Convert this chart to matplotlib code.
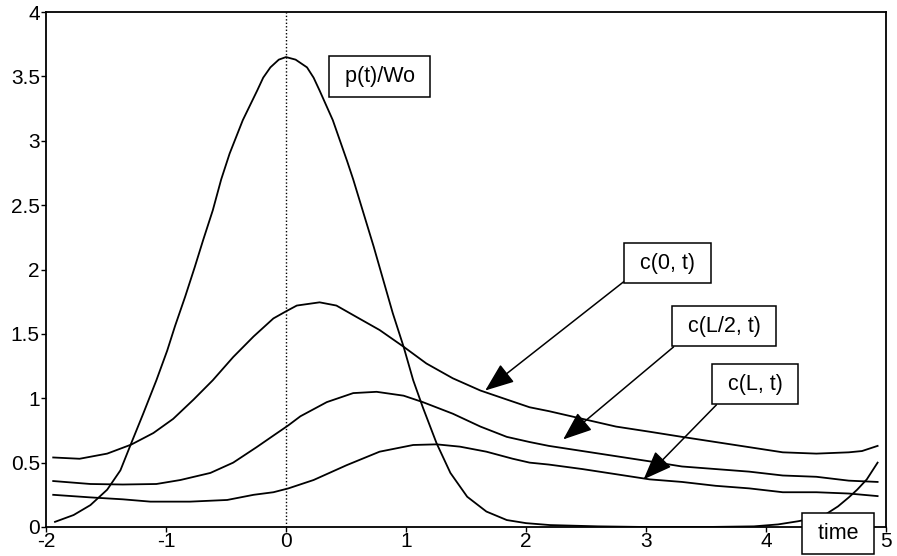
import numpy as np
import matplotlib
matplotlib.use("Agg")
import matplotlib.pyplot as plt

plt.rcParams['font.family'] = ['Liberation Sans', 'DejaVu Sans']

# p(t)/Wo
t_p = [-1.925, -1.77, -1.63, -1.49, -1.38, -1.29, -1.19, -1.08, -0.99, -0.925,
       -0.84, -0.76, -0.69, -0.61, -0.54, -0.47, -0.36, -0.24, -0.19, -0.13, -0.06,
       0.0, 0.08, 0.175, 0.23, 0.28, 0.39, 0.51, 0.56, 0.645, 0.73, 0.81, 0.89, 0.98,
       1.06, 1.14, 1.255, 1.37, 1.51, 1.67, 1.84, 2.0, 2.2, 2.6, 3.0, 3.5, 3.9,
       4.1, 4.27, 4.4, 4.5, 4.6, 4.69, 4.76, 4.84, 4.93]
v_p = [0.04, 0.093, 0.17, 0.29, 0.44, 0.65, 0.88, 1.14, 1.37, 1.56,
       1.79, 2.02, 2.23, 2.46, 2.70, 2.90, 3.16, 3.39, 3.49, 3.57, 3.63,
       3.65, 3.63, 3.57, 3.49, 3.39, 3.16, 2.84, 2.70, 2.44, 2.18, 1.92, 1.66, 1.40,
       1.14, 0.93, 0.65, 0.42, 0.235, 0.12, 0.054, 0.03, 0.015, 0.005, 0.0, 0.0, 0.005,
       0.02, 0.045, 0.07, 0.10, 0.16, 0.23, 0.29, 0.37, 0.50]

# c(0, t)
t_c0 = [-1.94, -1.72, -1.49, -1.29, -1.105, -0.94, -0.77, -0.61, -0.44, -0.27,
        -0.105, 0.0, 0.09, 0.28, 0.42, 0.59, 0.78, 0.98, 1.17, 1.39, 1.62, 1.84,
        2.03, 2.19, 2.47, 2.75, 3.03, 3.3, 3.58, 3.86, 4.14, 4.42, 4.69, 4.8, 4.93]
v_c0 = [0.54, 0.53, 0.57, 0.64, 0.73, 0.84, 0.99, 1.14, 1.32, 1.48,
        1.62, 1.675, 1.72, 1.745, 1.72, 1.63, 1.53, 1.40, 1.27, 1.155, 1.06, 0.99,
        0.93, 0.90, 0.84, 0.78, 0.74, 0.70, 0.66, 0.62, 0.58, 0.57, 0.58, 0.59, 0.63]

# c(L/2, t)
t_cL2 = [-1.94, -1.63, -1.36, -1.08, -0.88, -0.63, -0.44, -0.245, -0.105, 0.02,
         0.12, 0.34, 0.56, 0.755, 0.98, 1.14, 1.39, 1.62, 1.84, 2.03, 2.19, 2.47,
         2.75, 3.03, 3.3, 3.58, 3.86, 4.14, 4.42, 4.69, 4.93]
v_cL2 = [0.357, 0.334, 0.33, 0.334, 0.365, 0.42, 0.50, 0.62, 0.71, 0.79,
         0.86, 0.97, 1.04, 1.05, 1.02, 0.97, 0.88, 0.78, 0.70, 0.66, 0.63, 0.59,
         0.55, 0.51, 0.47, 0.45, 0.43, 0.40, 0.39, 0.36, 0.35]

# c(L, t)
t_cL = [-1.94, -1.63, -1.36, -1.13, -0.80, -0.49, -0.27, -0.105, 0.02, 0.23,
        0.505, 0.78, 1.06, 1.255, 1.45, 1.67, 1.89, 2.03, 2.19, 2.47, 2.75, 3.03,
        3.3, 3.58, 3.86, 4.14, 4.42, 4.69, 4.93]
v_cL = [0.25, 0.23, 0.215, 0.197, 0.197, 0.21, 0.25, 0.27, 0.30, 0.365,
        0.48, 0.585, 0.637, 0.642, 0.624, 0.585, 0.53, 0.50, 0.485, 0.45, 0.41, 0.37,
        0.35, 0.32, 0.30, 0.27, 0.27, 0.26, 0.24]

x_ticks = [-2, -1, 0, 1, 2, 3, 4, 5]
x_tick_labels = ['-2', '-1', '0', '1', '2', '3', '4', '5']
y_ticks = [0, 0.5, 1, 1.5, 2, 2.5, 3, 3.5, 4]
y_tick_labels = ['0', '0.5', '1', '1.5', '2', '2.5', '3', '3.5', '4']

fig = plt.figure(figsize=(8.97, 5.56), dpi=100)
ax = fig.add_axes([46/897, 29/556, 840/897, 515/556])

for tt, vv in [(t_p, v_p), (t_c0, v_c0), (t_cL2, v_cL2), (t_cL, v_cL)]:
    ax.plot(tt, vv, color='black', lw=1.3, solid_joinstyle='round')

ax.plot([0, 0], [0, 4], color='black', lw=1.0, linestyle=(0, (1, 1.5)))

ax.set_xlim(-2, 5)
ax.set_ylim(0, 4)
ax.set_xticks(x_ticks)
ax.set_xticklabels(x_tick_labels)
ax.set_yticks(y_ticks)
ax.set_yticklabels(y_tick_labels)
ax.tick_params(direction='out', length=3.5, width=1, labelsize=15, pad=1)
ax.tick_params(axis='x', pad=0)
for s in ax.spines.values():
    s.set_linewidth(1.3)

box = dict(boxstyle='square,pad=0.45', fc='white', ec='black', lw=1.1)
arr = dict(arrowstyle='-|>,head_length=0.9,head_width=0.35', mutation_scale=20,
           color='black', lw=1.1, shrinkA=0, shrinkB=0)
fs = 15.5

ax.text(0.78, 3.50, ' p(t)/Wo ', fontsize=fs, ha='center', va='center', bbox=box)

ax.annotate(' c(0, t) ', xy=(1.66, 1.06), xytext=(3.18, 2.05), fontsize=fs,
            ha='center', va='center', bbox=box,
            arrowprops=dict(arr, relpos=(0.0, 0.0)))
ax.annotate(' c(L/2, t) ', xy=(2.31, 0.68), xytext=(3.65, 1.56), fontsize=fs,
            ha='center', va='center', bbox=box,
            arrowprops=dict(arr, relpos=(0.05, 0.0)))
ax.annotate(' c(L, t) ', xy=(2.98, 0.37), xytext=(3.91, 1.11), fontsize=fs,
            ha='center', va='center', bbox=box,
            arrowprops=dict(arr, relpos=(0.07, 0.0)))

ax.text(4.60, -0.05, ' time ', fontsize=fs, ha='center', va='center', bbox=box,
        clip_on=False)

fig.savefig('out.png', dpi=100)
